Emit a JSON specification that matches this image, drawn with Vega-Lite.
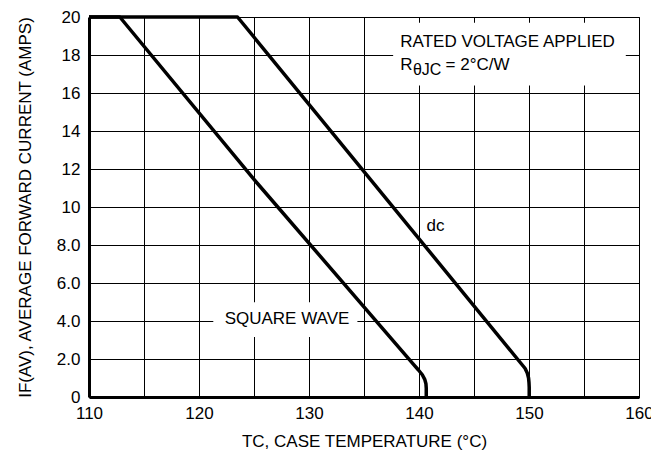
{
  "$schema": "https://vega.github.io/schema/vega-lite/v6.json",
  "width": 550,
  "height": 380,
  "autosize": "none",
  "padding": {"left": 89, "top": 17, "right": 12, "bottom": 75},
  "background": "white",
  "config": {
    "font": "Liberation Sans",
    "view": {"stroke": "black", "strokeWidth": 1},
    "text": {"font": "Liberation Sans", "fontSize": 17, "color": "black"}
  },
  "datasets": {
    "curves": [
      {"series": "square", "i": 0, "x": 110, "y": 20},
      {"series": "square", "i": 1, "x": 112.8, "y": 20},
      {"series": "square", "i": 2, "x": 125, "y": 11.45},
      {"series": "square", "i": 3, "x": 139.5, "y": 1.72},
      {"series": "square", "i": 4, "x": 139.95, "y": 1.42},
      {"series": "square", "i": 5, "x": 140.3, "y": 1.17},
      {"series": "square", "i": 6, "x": 140.52, "y": 0.93},
      {"series": "square", "i": 7, "x": 140.63, "y": 0.7},
      {"series": "square", "i": 8, "x": 140.66, "y": 0.45},
      {"series": "square", "i": 9, "x": 140.66, "y": 0},
      {"series": "dc", "i": 0, "x": 110, "y": 20},
      {"series": "dc", "i": 1, "x": 123.5, "y": 20},
      {"series": "dc", "i": 2, "x": 149.3, "y": 1.75},
      {"series": "dc", "i": 3, "x": 149.65, "y": 1.5},
      {"series": "dc", "i": 4, "x": 149.85, "y": 1.25},
      {"series": "dc", "i": 5, "x": 149.96, "y": 1.0},
      {"series": "dc", "i": 6, "x": 150.0, "y": 0.75},
      {"series": "dc", "i": 7, "x": 150.02, "y": 0.5},
      {"series": "dc", "i": 8, "x": 150.02, "y": 0}
    ],
    "boxes": [
      {"x": 137.65, "x2": 158.8, "y": 16.4, "y2": 19.7},
      {"x": 121.3, "x2": 134.4, "y": 3.16, "y2": 4.99}
    ],
    "centerNotes": [
      {"x": 128.0, "y": 4.1, "text": "SQUARE WAVE"},
      {"x": 141.5, "y": 9.0, "text": "dc"}
    ],
    "leftNotes": [
      {"x": 138.3, "y": 18.7, "text": "RATED VOLTAGE APPLIED"},
      {"x": 138.3, "y": 17.45, "text": "R"},
      {"x": 142.42, "y": 17.45, "text": "= 2°C/W"}
    ],
    "subNotes": [
      {"x": 139.45, "y": 17.2, "text": "θJC"}
    ]
  },
  "encoding": {
    "x": {
      "field": "x",
      "type": "quantitative",
      "scale": {"domain": [110, 160], "nice": false, "zero": false},
      "axis": {
        "values": [110, 115, 120, 125, 130, 135, 140, 145, 150, 155, 160],
        "labelExpr": "datum.value % 10 === 0 ? datum.label : ''",
        "grid": true,
        "gridColor": "black",
        "gridOpacity": 1,
        "gridWidth": 1,
        "ticks": false,
        "domainColor": "black",
        "domainWidth": 3,
        "labelFontSize": 17,
        "labelColor": "black",
        "labelPadding": 8,
        "labelOverlap": false,
        "labelFlush": false,
        "title": "TC, CASE TEMPERATURE (°C)",
        "titleFontSize": 17,
        "titleFontWeight": "normal",
        "titleColor": "black",
        "titlePadding": 12
      }
    },
    "y": {
      "field": "y",
      "type": "quantitative",
      "scale": {"domain": [0, 20], "nice": false},
      "axis": {
        "values": [0, 2, 4, 6, 8, 10, 12, 14, 16, 18, 20],
        "labelExpr": "datum.value > 0 && datum.value < 10 ? format(datum.value, '.1f') : format(datum.value, 'd')",
        "grid": true,
        "gridColor": "black",
        "gridOpacity": 1,
        "gridWidth": 1,
        "ticks": false,
        "domainColor": "black",
        "domainWidth": 3,
        "labelFontSize": 17,
        "labelColor": "black",
        "labelPadding": 9,
        "labelOverlap": false,
        "title": "IF(AV), AVERAGE FORWARD CURRENT (AMPS)",
        "titleFontSize": 17,
        "titleFontWeight": "normal",
        "titleColor": "black",
        "titlePadding": 22
      }
    }
  },
  "layer": [
    {
      "data": {"name": "boxes"},
      "mark": {"type": "rect", "fill": "white", "stroke": null},
      "encoding": {"x2": {"field": "x2"}, "y2": {"field": "y2"}}
    },
    {
      "data": {"name": "curves"},
      "mark": {"type": "line", "color": "black", "strokeWidth": 3.5, "strokeJoin": "round", "strokeCap": "butt"},
      "encoding": {
        "detail": {"field": "series"},
        "order": {"field": "i", "type": "quantitative"}
      }
    },
    {
      "data": {"name": "centerNotes"},
      "mark": {"type": "text", "align": "center", "baseline": "middle", "fontSize": 17},
      "encoding": {"text": {"field": "text"}}
    },
    {
      "data": {"name": "leftNotes"},
      "mark": {"type": "text", "align": "left", "baseline": "middle", "fontSize": 17},
      "encoding": {"text": {"field": "text"}}
    },
    {
      "data": {"name": "subNotes"},
      "mark": {"type": "text", "align": "left", "baseline": "middle", "fontSize": 16},
      "encoding": {"text": {"field": "text"}}
    }
  ]
}
